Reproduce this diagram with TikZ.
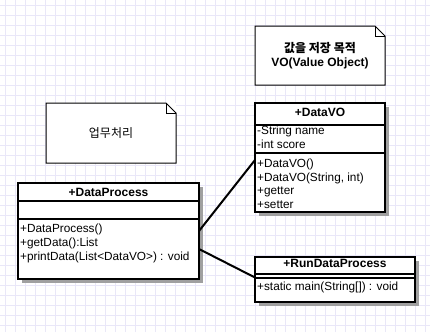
\documentclass[tikz,border=0pt]{standalone}
\usepackage{fontspec}
\setmainfont{Liberation Sans}
\newfontfamily\kr{Noto Sans CJK KR}
\definecolor{gridline}{RGB}{233,231,248}
\definecolor{shadowgray}{RGB}{160,160,160}
\tikzset{
  umlbox/.style={draw, line width=2pt, fill=white, inner sep=0pt, outer sep=0pt, anchor=north west},
  umlshadow/.style={fill=shadowgray, draw=none},
  sep/.style={line width=2pt},
  title/.style={font=\fontsize{12}{14}\selectfont\bfseries, inner sep=0pt, anchor=base},
  member/.style={font=\fontsize{11.8}{14}\selectfont, anchor=base west, inner sep=0pt},
  notebox/.style={inner sep=0pt, outer sep=0pt, anchor=north west, align=center, fill=white},
  noteline/.style={draw, line width=1pt, line join=miter},
  link/.style={draw, line width=2pt},
}
% folded-corner outline drawn around a named note node
\newcommand\notefold[1]{%
  \draw[noteline] (#1.north west) -- ([xshift=-10pt]#1.north east)
    -- ([yshift=-10pt]#1.north east) -- (#1.south east) -- (#1.south west) -- cycle;
  \draw[noteline] ([xshift=-10pt]#1.north east) -- ([xshift=-10pt,yshift=-10pt]#1.north east)
    -- ([yshift=-10pt]#1.north east);}
\begin{document}
\begin{tikzpicture}[x=1pt,y=-1pt]
\useasboundingbox (0,0) rectangle (430,332);
\fill[white] (0,0) rectangle (430,332);
% background grid
\foreach \g in {5,15,...,425} \draw[gridline, line width=1pt] (\g,0) -- (\g,332);
\foreach \g in {5,15,...,325} \draw[gridline, line width=1pt] (0,\g) -- (430,\g);

% notes
\node[notebox, minimum width=130pt, minimum height=59pt,
      font=\fontsize{12}{14.5}\selectfont\bfseries] (vonote) at (255,26)
  {{\kr 값을 저장 목적}\\VO(Value Object)};
\notefold{vonote}
\node[notebox, minimum width=130pt, minimum height=60pt,
      font=\fontsize{12}{14}\selectfont\kr] (worknote) at (46,103) {업무처리};
\notefold{worknote}

% shadows
\fill[umlshadow] (22,187) rectangle (203,283);
\fill[umlshadow] (259,107) rectangle (389,216);
\fill[umlshadow] (259,261) rectangle (419,306);

% DataProcess
\node[umlbox, minimum width=181pt, minimum height=96pt] (dp) at (18,183) {};
\draw[sep] (dp.west |- 0,201) -- (dp.east |- 0,201);
\draw[sep] (dp.west |- 0,219) -- (dp.east |- 0,219);
\node[title] at (108.5,196) {+DataProcess};
\node[member] at (20,232.8) {+DataProcess()};
\node[member] at (20,246.6) {+getData():List};
\node[member] at (20,260.3) {+printData(List<DataVO>) : void};

% DataVO
\node[umlbox, minimum width=130pt, minimum height=109pt] (dv) at (255,103) {};
\draw[sep] (dv.west |- 0,125) -- (dv.east |- 0,125);
\draw[sep] (dv.west |- 0,153) -- (dv.east |- 0,153);
\node[title] at (320,116) {+DataVO};
\node[member] at (257,134.5) {-String name};
\node[member] at (257,148.2) {-int score};
\node[member] at (257,167.6) {+DataVO()};
\node[member] at (257,181) {+DataVO(String, int)};
\node[member] at (257,194.6) {+getter};
\node[member] at (257,208) {+setter};

% RunDataProcess
\node[umlbox, minimum width=160pt, minimum height=45pt] (rd) at (255,257) {};
\draw[sep] (rd.west |- 0,274) -- (rd.east |- 0,274);
\draw[sep] (rd.west |- 0,277.5) -- (rd.east |- 0,277.5);
\node[title] at (335,267.6) {+RunDataProcess};
\node[member] at (257,290.8) {+static main(String[]) : void};

% associations
\draw[link] ([yshift=-18pt]dp.east) -- ([yshift=2pt]rd.west);
\draw[link] (dp.east) -- ([yshift=-2.5pt]dv.west);
\end{tikzpicture}
\end{document}
